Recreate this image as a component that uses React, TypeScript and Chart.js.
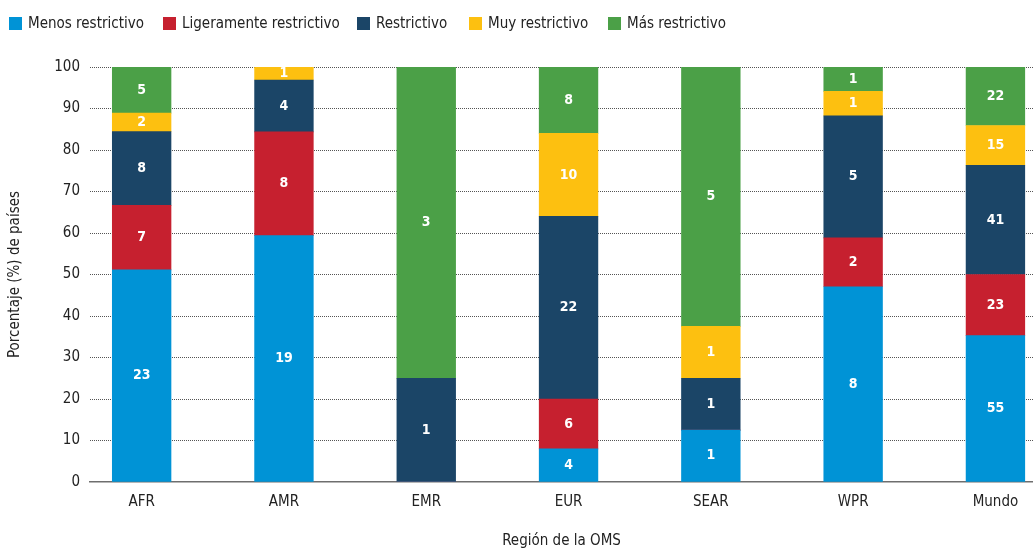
import React, { useEffect, useRef } from 'react';
import { Chart, registerables } from 'chart.js';

Chart.register(...registerables);

const regions = ['AFR', 'AMR', 'EMR', 'EUR', 'SEAR', 'WPR', 'Mundo'];
const seriesNames = ['Menos restrictivo', 'Ligeramente restrictivo', 'Restrictivo', 'Muy restrictivo', 'Más restrictivo'];
// number of countries per category (shown as labels); bars show their share (%) per region
const menosRestrictivo = [23, 19, 0, 4, 1, 8, 55];
const ligeramenteRestrictivo = [7, 8, 0, 6, 0, 2, 23];
const restrictivo = [8, 4, 1, 22, 1, 5, 41];
const muyRestrictivo = [2, 1, 0, 10, 1, 1, 15];
const masRestrictivo = [5, 0, 3, 8, 5, 1, 22];
const seriesColors = ['#0093D6', '#C6202F', '#1B4567', '#FDC010', '#4BA047'];
const yTickValues = [0, 10, 20, 30, 40, 50, 60, 70, 80, 90, 100];
const legendLeft = [9, 163, 357, 469, 608];

const FONT = "'DejaVu Sans Condensed', 'Liberation Sans Narrow', 'Roboto', sans-serif";

export default function App() {
  const canvasRef = useRef<HTMLCanvasElement | null>(null);

  useEffect(() => {
    document.body.style.margin = '0';
    const canvas = canvasRef.current;
    if (!canvas) return;
    const allSeries = [menosRestrictivo, ligeramenteRestrictivo, restrictivo, muyRestrictivo, masRestrictivo];
    const totals = regions.map((_, i) => allSeries.reduce((s, arr) => s + arr[i], 0));

    const datasets = allSeries.map((arr, k) => ({
      label: seriesNames[k],
      backgroundColor: seriesColors[k],
      borderWidth: 0,
      barThickness: 58.7,
      data: arr.map((c, i) => ({ x: i, y: (c / totals[i]) * 100, count: c })),
    }));

    const labelPlugin = {
      id: 'segLabels',
      afterDatasetsDraw(chart: any) {
        const ctx = chart.ctx;
        ctx.save();
        ctx.fillStyle = '#ffffff';
        ctx.font = `bold 14px ${FONT}`;
        ctx.textAlign = 'center';
        ctx.textBaseline = 'middle';
        chart.data.datasets.forEach((ds: any, di: number) => {
          const meta = chart.getDatasetMeta(di);
          meta.data.forEach((el: any, i: number) => {
            const c = ds.data[i].count;
            if (!c) return;
            ctx.fillText(String(c), el.x, (el.y + el.base) / 2);
          });
        });
        ctx.restore();
      },
    };

    const chart = new Chart(canvas, {
      type: 'bar',
      data: { datasets: datasets as any },
      options: {
        animation: false,
        responsive: false,
        maintainAspectRatio: false,
        layout: { padding: { top: 67, left: 0, right: 0, bottom: 0 } },
        plugins: {
          legend: { display: false },
          tooltip: { enabled: false },
        },
        scales: {
          x: {
            type: 'linear',
            stacked: true,
            offset: false,
            min: -0.363,
            max: 6.264,
            afterBuildTicks: (axis: any) => {
              axis.ticks = regions.map((_, i) => ({ value: i }));
            },
            afterFit: (scale: any) => {
              scale.height = 68;
            },
            grid: { display: false, drawTicks: false, offset: false },
            border: { display: true, color: '#6e6e6e', width: 1.6 },
            ticks: {
              autoSkip: false,
              maxRotation: 0,
              padding: 11,
              color: '#222',
              font: { family: FONT, size: 15 },
              callback: (v: any) => regions[v as number] ?? '',
            },
            title: {
              display: true,
              text: 'Región de la OMS',
              color: '#222',
              font: { family: FONT, size: 15 },
              padding: { top: 0, bottom: 0 },
            },
          },
          y: {
            stacked: true,
            min: 0,
            max: 100,
            afterBuildTicks: (axis: any) => {
              axis.ticks = yTickValues.map((v) => ({ value: v }));
            },
            afterFit: (scale: any) => {
              scale.width = 90;
            },
            grid: {
              drawTicks: false,
              color: (ctx: any) => (ctx.tick && ctx.tick.value === 0 ? 'rgba(0,0,0,0)' : '#555'),
              lineWidth: 1,
            },
            border: { display: false, dash: [1, 1] },
            ticks: {
              padding: 10,
              color: '#222',
              font: { family: FONT, size: 15 },
            },
            title: {
              display: true,
              text: 'Porcentaje (%) de países',
              color: '#222',
              font: { family: FONT, size: 15 },
              padding: { top: 6, bottom: 0 },
            },
          },
        },
      },
      plugins: [labelPlugin],
    });
    return () => chart.destroy();
  }, []);

  return (
    <div style={{ position: 'relative', width: 1033, height: 550, overflow: 'hidden' }}>
      <canvas ref={canvasRef} width={1033} height={550} style={{ position: 'absolute', left: 0, top: 0 }} />
      {seriesNames.map((name, k) => (
        <div
          key={name}
          style={{
            position: 'absolute',
            left: legendLeft[k],
            top: 13,
            height: 20,
            display: 'flex',
            alignItems: 'center',
            fontFamily: FONT,
            fontSize: 15,
            color: '#222',
            whiteSpace: 'nowrap',
          }}
        >
          <span style={{ display: 'inline-block', width: 13, height: 13, background: seriesColors[k], marginRight: 6 }} />
          <span>{name}</span>
        </div>
      ))}
    </div>
  );
}
